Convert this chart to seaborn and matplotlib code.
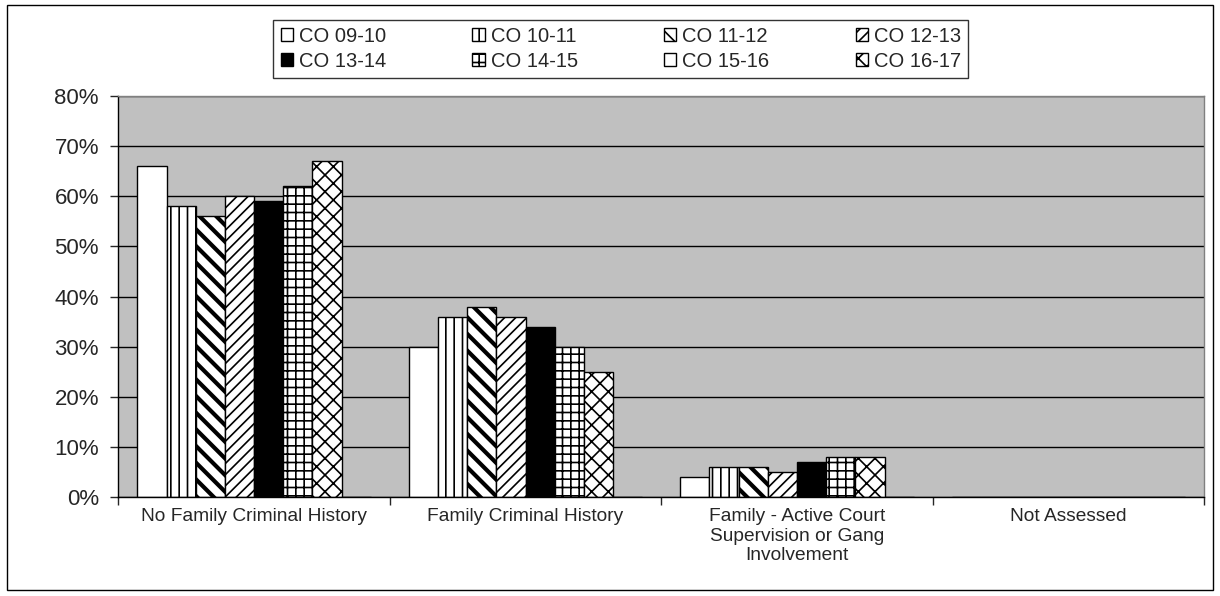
import numpy as np
import pandas as pd
import matplotlib
matplotlib.use('Agg')
import matplotlib.pyplot as plt
import matplotlib.patches as mpatches
from matplotlib.ticker import PercentFormatter, FixedLocator
import seaborn as sns

categories = ['No Family Criminal History', 'Family Criminal History',
              'Family - Active Court\nSupervision or Gang\nInvolvement', 'Not Assessed']
periods = ['CO 09-10', 'CO 10-11', 'CO 11-12', 'CO 12-13',
           'CO 13-14', 'CO 14-15', 'CO 15-16', 'CO 16-17']

co_09_10 = [0.66, 0.30, 0.04, 0.0]
co_10_11 = [0.58, 0.36, 0.06, 0.0]
co_11_12 = [0.56, 0.38, 0.06, 0.0]
co_12_13 = [0.60, 0.36, 0.05, 0.0]
co_13_14 = [0.59, 0.34, 0.07, 0.0]
co_14_15 = [0.62, 0.30, 0.08, 0.0]
co_15_16 = [0.0, 0.0, 0.0, 0.0]
co_16_17 = [0.67, 0.25, 0.08, 0.0]

values = [co_09_10, co_10_11, co_11_12, co_12_13, co_13_14, co_14_15, co_15_16, co_16_17]

rows = []
for p, vals in zip(periods, values):
    for c, v in zip(categories, vals):
        rows.append({'category': c, 'period': p, 'share': v})
df = pd.DataFrame(rows)

# the empty CO 15-16 series sits in the last slot of each group
hue_order = ['CO 09-10', 'CO 10-11', 'CO 11-12', 'CO 12-13',
             'CO 13-14', 'CO 14-15', 'CO 16-17', 'CO 15-16']

styles = {
    'CO 09-10': ('white', ''),
    'CO 10-11': ('white', '||'),
    'CO 11-12': ('white', '\\\\'),
    'CO 12-13': ('white', '///'),
    'CO 13-14': ('black', ''),
    'CO 14-15': ('white', '++'),
    'CO 15-16': ('white', ''),
    'CO 16-17': ('white', 'xx'),
}

sns.set_style('white')
plt.rcParams['font.family'] = ['Liberation Sans', 'DejaVu Sans']
plt.rcParams['hatch.linewidth'] = 1.2

fig = plt.figure(figsize=(12.2, 5.96), dpi=100)
ax = fig.add_axes([0.097, 0.166, 0.89, 0.673])
ax.set_facecolor('#c0c0c0')

sns.barplot(data=df, x='category', y='share', hue='period', hue_order=hue_order,
            order=categories, palette={p: styles[p][0] for p in periods},
            edgecolor='black', linewidth=1.0, width=0.86, saturation=1,
            legend=False, ax=ax)

for period, cont in zip(hue_order, ax.containers):
    for bar in cont:
        bar.set_hatch(styles[period][1])
        if period == 'CO 11-12' and hasattr(bar, 'set_hatch_linewidth'):
            bar.set_hatch_linewidth(3.0)

ax.set_ylim(0, 0.8)
ax.set_xlim(-0.5, 3.5)
ax.set_yticks(np.arange(0, 0.81, 0.1))
ax.yaxis.set_major_formatter(PercentFormatter(1.0, decimals=0))
ax.yaxis.grid(True, color='black', linewidth=1.0)
ax.set_axisbelow(True)
ax.set_xlabel('')
ax.set_ylabel('')

ax.tick_params(axis='y', labelsize=16, length=6, width=1, direction='out', left=True, pad=8)
ax.tick_params(axis='x', which='major', labelsize=13.8, length=0, pad=8)
ax.xaxis.set_minor_locator(FixedLocator([-0.5, 0.5, 1.5, 2.5, 3.5]))
ax.tick_params(axis='x', which='minor', length=6, width=1, direction='out', bottom=True)

for s in ['left', 'bottom']:
    ax.spines[s].set_color('black')
    ax.spines[s].set_linewidth(1.0)
for s in ['top', 'right']:
    ax.spines[s].set_color('#808080')
    ax.spines[s].set_linewidth(1.0)

# legend, filled row by row like the original
handles = {p: mpatches.Patch(facecolor=styles[p][0], hatch=styles[p][1],
                             edgecolor='black', linewidth=1.0) for p in periods}
legend_order = ['CO 09-10', 'CO 13-14', 'CO 10-11', 'CO 14-15',
                'CO 11-12', 'CO 15-16', 'CO 12-13', 'CO 16-17']
leg = fig.legend([handles[p] for p in legend_order], legend_order, ncol=4,
                 loc='center', bbox_to_anchor=(0.509, 0.918), fontsize=14.5,
                 frameon=True, fancybox=False, edgecolor='black',
                 handlelength=0.6, handleheight=0.6, handletextpad=0.3,
                 columnspacing=4.3, labelspacing=0.3, borderpad=0.35,
                 borderaxespad=0)
leg.get_frame().set_linewidth(1.0)

fig.patches.append(mpatches.Rectangle((0.006, 0.01), 0.988, 0.982, transform=fig.transFigure,
                                      fill=False, edgecolor='black', linewidth=1.0))

fig.savefig('out.png', dpi=100)
